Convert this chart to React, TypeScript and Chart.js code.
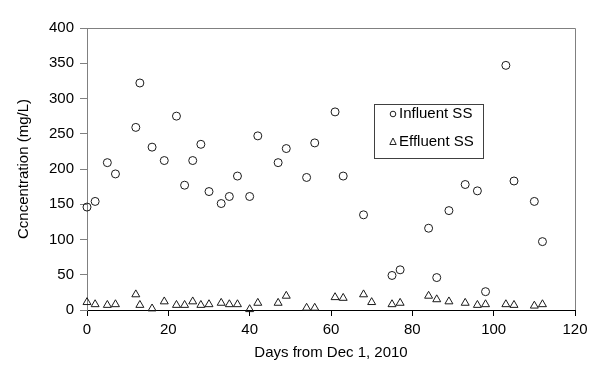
import React, { useEffect, useRef } from "react";
import { Chart, registerables } from "chart.js";

Chart.register(...registerables);

const influentDays = [0, 2, 5, 7, 12, 13, 16, 19, 22, 24, 26, 28, 30, 33, 35, 37, 40, 42, 47, 49, 54, 56, 61, 63, 68, 75, 77, 84, 86, 89, 93, 96, 98, 103, 105, 110, 112];
const influentSS = [146, 154, 209, 193, 259, 322, 231, 212, 275, 177, 212, 235, 168, 151, 161, 190, 161, 247, 209, 229, 188, 237, 281, 190, 135, 49, 57, 116, 46, 141, 178, 169, 26, 347, 183, 154, 97];

const effluentDays = [0, 2, 5, 7, 12, 13, 16, 19, 22, 24, 26, 28, 30, 33, 35, 37, 40, 42, 47, 49, 54, 56, 61, 63, 68, 70, 75, 77, 84, 86, 89, 93, 96, 98, 103, 105, 110, 112];
const effluentSS = [11, 8, 7, 8, 22, 7, 2, 12, 7, 7, 12, 7, 8, 10, 8, 8, 1, 10, 10, 20, 3, 3, 18, 17, 22, 11, 8, 10, 20, 15, 12, 10, 7, 8, 8, 7, 6, 8];

const seriesNames = ["Influent SS", "Effluent SS"];
const xTitle = "Days from Dec 1, 2010";
const yTitle = "Ccncentration (mg/L)";

const FONT = "'Liberation Sans', Arial, sans-serif";

const frameAndLegend = {
  id: "frameAndLegend",
  afterDatasetsDraw(chart: any) {
    const { ctx, chartArea } = chart;
    const { left, right, top, bottom } = chartArea;
    ctx.save();
    ctx.strokeStyle = "#808080";
    ctx.lineWidth = 1;
    ctx.beginPath();
    ctx.moveTo(left, top + 0.5);
    ctx.lineTo(right + 0.5, top + 0.5);
    ctx.lineTo(right + 0.5, bottom);
    ctx.stroke();

    // legend box
    const bx = 374.5, by = 104.5, bw = 109, bh = 54;
    ctx.fillStyle = "#ffffff";
    ctx.fillRect(bx, by, bw, bh);
    ctx.strokeStyle = "#404040";
    ctx.strokeRect(bx, by, bw, bh);
    ctx.fillStyle = "#000000";
    ctx.font = `15px ${FONT}`;
    ctx.textBaseline = "middle";
    ctx.textAlign = "left";
    ctx.fillText(seriesNames[0], 399, 114);
    ctx.fillText(seriesNames[1], 399, 142);
    ctx.strokeStyle = "#202020";
    ctx.beginPath();
    ctx.arc(393, 114, 2.8, 0, Math.PI * 2);
    ctx.stroke();
    ctx.beginPath();
    ctx.moveTo(393, 138);
    ctx.lineTo(396.2, 144.5);
    ctx.lineTo(389.8, 144.5);
    ctx.closePath();
    ctx.stroke();
    ctx.restore();
  },
};

export default function App() {
  const ref = useRef<HTMLCanvasElement | null>(null);
  useEffect(() => {
    if (!ref.current) return;
    const chart = new Chart(ref.current, {
      type: "scatter",
      data: {
        datasets: [
          {
            label: seriesNames[0],
            data: influentDays.map((d, i) => ({ x: d, y: influentSS[i] })),
            pointStyle: "circle",
            pointRadius: 4,
            borderColor: "#1a1a1a",
            backgroundColor: "rgba(0,0,0,0)",
            borderWidth: 1,
            clip: false,
          } as any,
          {
            label: seriesNames[1],
            data: effluentDays.map((d, i) => ({ x: d, y: effluentSS[i] })),
            pointStyle: "triangle",
            pointRadius: 4.6,
            borderColor: "#1a1a1a",
            backgroundColor: "rgba(0,0,0,0)",
            borderWidth: 1,
            clip: false,
          } as any,
        ],
      },
      options: {
        animation: false,
        responsive: false,
        devicePixelRatio: 1,
        layout: { padding: { left: 0, top: 28, right: 22, bottom: 0 } },
        plugins: { legend: { display: false }, tooltip: { enabled: false } },
        scales: {
          x: {
            type: "linear",
            min: 0,
            max: 120,
            afterFit: (s: any) => { s.height = 63; },
            ticks: { stepSize: 20, color: "#000", font: { family: FONT, size: 15 }, padding: 5 },
            grid: { display: true, drawOnChartArea: false, drawTicks: true, tickLength: 6, color: "#000" },
            border: { display: true, color: "#000", width: 1 },
            title: { display: true, text: xTitle, color: "#000", font: { family: FONT, size: 15 }, padding: { top: 0, bottom: 11 } },
          },
          y: {
            type: "linear",
            min: 0,
            max: 400,
            afterFit: (s: any) => { s.width = 87; },
            ticks: { stepSize: 50, color: "#000", font: { family: FONT, size: 15 }, padding: 6 },
            grid: { display: true, drawOnChartArea: false, drawTicks: true, tickLength: 7, color: "#808080" },
            border: { display: true, color: "#808080", width: 1 },
            title: { display: true, text: yTitle, color: "#000", font: { family: FONT, size: 15 }, padding: { top: 15, bottom: 0 } },
          },
        },
      },
      plugins: [frameAndLegend],
    });
    return () => chart.destroy();
  }, []);
  return (
    <div style={{ position: "fixed", left: 0, top: 0, width: 597, height: 373, background: "#fff" }}>
      <canvas ref={ref} width={597} height={373} style={{ width: 597, height: 373 }} />
    </div>
  );
}
